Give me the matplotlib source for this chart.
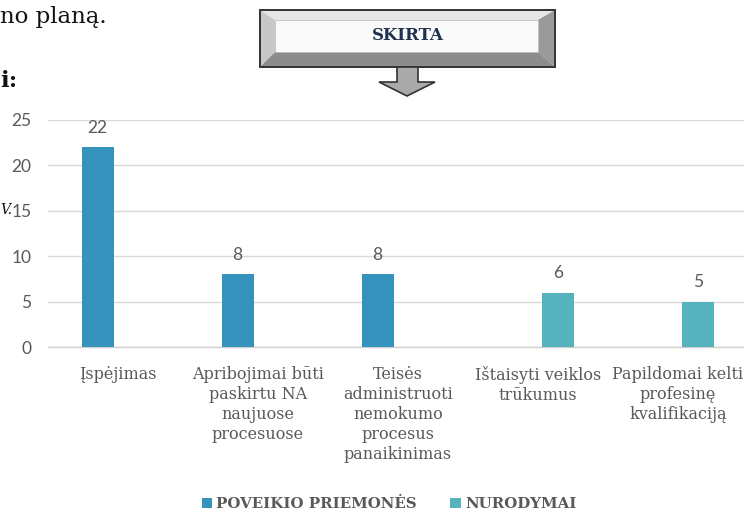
import matplotlib
matplotlib.use("Agg")
import matplotlib.pyplot as plt
import numpy as np
from matplotlib.patches import Polygon, Rectangle

categories = ['Įspėjimas',
              'Apribojimai būti\npaskirtu NA\nnaujuose\nprocesuose',
              'Teisės\nadministruoti\nnemokumo\nprocesus\npanaikinimas',
              'Ištaisyti veiklos\ntrūkumus',
              'Papildomai kelti\nprofesinę\nkvalifikaciją']
series_names = ['POVEIKIO PRIEMONĖS', 'NURODYMAI']
poveikio = [22, 8, 8, np.nan, np.nan]
nurodymai = [np.nan, np.nan, np.nan, 6, 5]
yticks = [0, 5, 10, 15, 20, 25]

W, H = 744, 512
fig = plt.figure(figsize=(W/100, H/100), dpi=100)
fig.patch.set_facecolor('white')

c1 = '#3593BE'
c2 = '#56B3BE'
gray = '#595959'

# main axes in pixel placement
left, right, top, bottom = 48, 748, 120, 347
ax = fig.add_axes([left/W, 1-bottom/H, (right-left)/W, (bottom-top)/H])
x = np.arange(len(categories))
bw = 0.229
off = 0.146
b1 = ax.bar(x - off, poveikio, bw, color=c1, label=series_names[0], zorder=3)
b2 = ax.bar(x + off, nurodymai, bw, color=c2, label=series_names[1], zorder=3)
for xs, vals in ((x - off, poveikio), (x + off, nurodymai)):
    for xi, v in zip(xs, vals):
        if not np.isnan(v):
            ax.text(xi, v + 1.25, f'{v:g}', ha='center', va='bottom',
                    fontsize=12.5, color=gray, family='Lato')
ax.set_xlim(-0.5, len(categories) - 0.5)
ax.set_ylim(0, 25)
ax.set_yticks(yticks)
ax.set_yticklabels([str(t) for t in yticks], family='Lato', fontsize=12.5, color=gray)
ax.set_xticks(x)
ax.set_xticklabels(categories, family='DejaVu Serif', fontsize=11.5, color=gray,
                   linespacing=1.22, va='top')
ax.tick_params(axis='y', length=0, pad=12)
ax.tick_params(axis='x', length=0, pad=14)
ax.grid(axis='y', color='#d9d9d9', lw=1, zorder=0)
ax.set_axisbelow(True)
for s in ['top', 'right', 'left']:
    ax.spines[s].set_visible(False)
ax.spines['bottom'].set_color('#d0d0d0')
ax.spines['bottom'].set_linewidth(1)
ax.set_facecolor('none')

leg = fig.legend(handles=[b1, b2], labels=series_names, loc='center',
                 bbox_to_anchor=(389/W, 1-504/H), ncol=2, frameon=False,
                 prop={'family': 'DejaVu Serif', 'weight': 'bold', 'size': 10.8},
                 handlelength=0.7, handleheight=0.7, handletextpad=0.3,
                 columnspacing=2.2, borderpad=0.1)
for t in leg.get_texts():
    t.set_color(gray)

# overlay in pixel coordinates for document decorations
ov = fig.add_axes([0, 0, 1, 1], zorder=5)
ov.set_xlim(0, W)
ov.set_ylim(H, 0)
ov.axis('off')
ov.patch.set_alpha(0)

ov.text(0, 17, 'no planą.', family='DejaVu Serif', fontsize=16.5, color='#111111',
        ha='left', va='center')
ov.text(0, 81, 'i:', family='DejaVu Serif', fontsize=16.5, weight='bold',
        color='#111111', ha='left', va='center')
ov.text(0, 210, 'V.', family='DejaVu Serif', fontsize=10, style='italic',
        color='#111111', ha='left', va='center')

# bevel box
x0, x1, y0, y1 = 260, 555, 10, 67
ix0, ix1, iy0, iy1 = 275, 538, 20, 52
ov.add_patch(Polygon([(x0, y0), (x1, y0), (ix1, iy0), (ix0, iy0)], closed=True,
                     facecolor='#e6e6e6', edgecolor='none'))
ov.add_patch(Polygon([(x0, y0), (ix0, iy0), (ix0, iy1), (x0, y1)], closed=True,
                     facecolor='#c8c8c8', edgecolor='none'))
ov.add_patch(Polygon([(x1, y0), (x1, y1), (ix1, iy1), (ix1, iy0)], closed=True,
                     facecolor='#9a9a9a', edgecolor='none'))
ov.add_patch(Polygon([(x0, y1), (ix0, iy1), (ix1, iy1), (x1, y1)], closed=True,
                     facecolor='#8c8c8c', edgecolor='none'))
ov.add_patch(Rectangle((ix0, iy0), ix1-ix0, iy1-iy0, facecolor='#fafafa',
                       edgecolor='#bdbdbd', lw=0.6))
ov.add_patch(Rectangle((x0, y0), x1-x0, y1-y0, facecolor='none',
                       edgecolor='#333333', lw=1.4))
ov.text(408, 35, 'SKIRTA', family='DejaVu Serif', weight='bold',
        fontsize=12, color='#1F3050', ha='center', va='center')
arrow = [(397, 67), (418, 67), (418, 82), (435, 82), (407, 96), (379, 82), (397, 82)]
ov.add_patch(Polygon(arrow, closed=True, facecolor='#a9a9a9',
                     edgecolor='#333333', lw=1.2))

fig.savefig('out.png', dpi=100, facecolor='white')
